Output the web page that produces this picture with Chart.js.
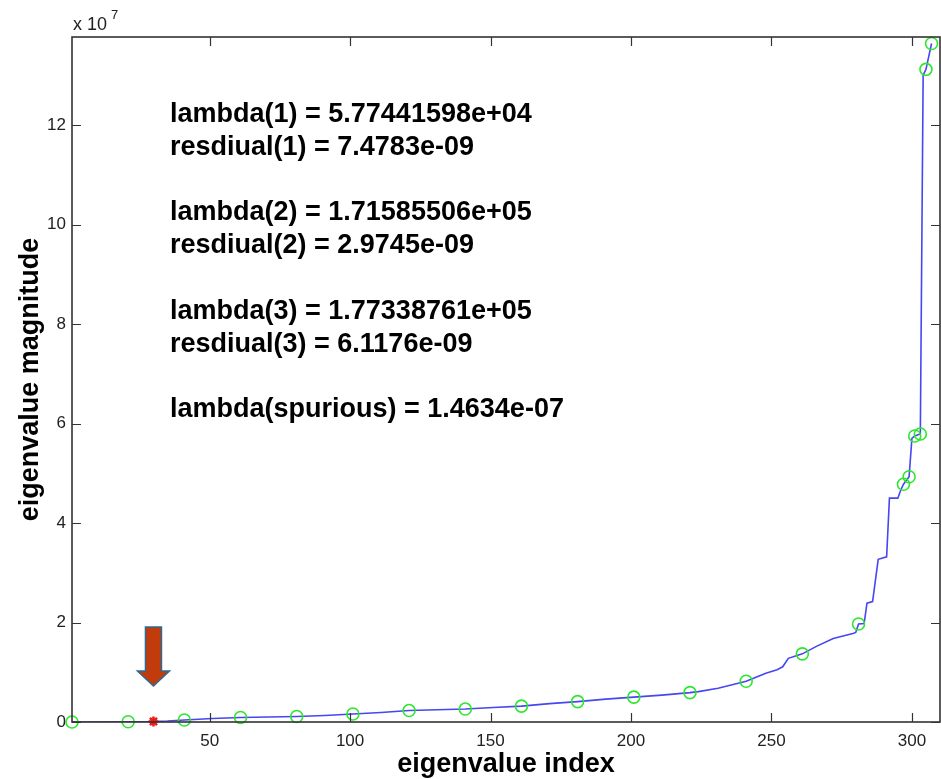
<!DOCTYPE html>
<html>
<head>
<meta charset="utf-8">
<title>eigenvalue magnitude</title>
<script src="https://cdn.jsdelivr.net/npm/chart.js@4.4.0/dist/chart.umd.min.js"></script>
<style>
    html, body { margin: 0; padding: 0; background: #fff; overflow: hidden; }
    #wrap { width: 941px; height: 779px; position: relative; }
    canvas { display: block; }
</style>
</head>
<body>
<div id="wrap"><canvas id="eigChart" width="941" height="779"></canvas></div>
<script>
// sorted eigenvalues, magnitude in units of 1e7
const eigIndex = [1, 11, 21, 30, 35, 41, 51, 61, 71, 81, 91, 101, 111, 121, 131, 141, 151, 161, 171, 181,
    191, 201, 211, 221, 224, 231, 241, 248, 252, 254, 256, 261, 266, 272, 279, 280, 281, 283, 284, 286,
    288, 291, 292, 295, 296, 297, 299, 300, 301, 303, 304, 305, 307];
const magnitudeE7 = [0.0, 0.0, 0.005, 0.01, 0.02, 0.04, 0.07, 0.09, 0.10, 0.11, 0.13, 0.16, 0.19, 0.23, 0.245, 0.26, 0.29, 0.32, 0.37, 0.41,
    0.46, 0.50, 0.54, 0.59, 0.61, 0.68, 0.82, 0.98, 1.05, 1.11, 1.28, 1.37, 1.52, 1.68, 1.78, 1.80, 1.97, 1.98, 2.39, 2.42,
    3.27, 3.32, 4.50, 4.50, 4.66, 4.78, 4.93, 5.70, 5.75, 5.79, 13.0, 13.12, 13.64];
const markerIndex = [1, 21, 41, 61, 81, 101, 121, 141, 161, 181, 201, 221, 241, 261, 281, 297, 299, 301, 303, 305, 307];
const spuriousIndex = [30];
const xTicks = [50, 100, 150, 200, 250, 300];
const yTicks = [0, 2, 4, 6, 8, 10, 12];
const infoLines = [
    'lambda(1) = 5.77441598e+04',
    'resdiual(1) = 7.4783e-09',
    '',
    'lambda(2) = 1.71585506e+05',
    'resdiual(2) = 2.9745e-09',
    '',
    'lambda(3) = 1.77338761e+05',
    'resdiual(3) = 6.1176e-09',
    '',
    'lambda(spurious) = 1.4634e-07'
];

document.addEventListener('DOMContentLoaded', function () {

    const FONT = '"Liberation Sans", Arial, Helvetica, sans-serif';

    function pointsFor(list) {
        return list.map(function (i) {
            return { x: i, y: magnitudeE7[eigIndex.indexOf(i)] };
        });
    }

    const curve = eigIndex.map(function (i, k) { return { x: i, y: magnitudeE7[k] }; });

    // box, inward ticks, annotations, axis titles
    const decorations = {
        id: 'decorations',
        afterDraw(chart) {
            const ctx = chart.ctx;
            const a = chart.chartArea;
            const xs = chart.scales.x;
            const ys = chart.scales.y;
            const tl = 9;

            ctx.save();
            ctx.strokeStyle = '#333';
            ctx.lineWidth = 1.6;
            ctx.strokeRect(a.left, a.top, a.right - a.left, a.bottom - a.top);

            ctx.lineWidth = 1.2;
            ctx.beginPath();
            xTicks.forEach(function (v) {
                const px = Math.round(xs.getPixelForValue(v)) + 0.5;
                ctx.moveTo(px, a.bottom); ctx.lineTo(px, a.bottom - tl);
                ctx.moveTo(px, a.top); ctx.lineTo(px, a.top + tl);
            });
            yTicks.forEach(function (v) {
                const py = Math.round(ys.getPixelForValue(v)) + 0.5;
                ctx.moveTo(a.left, py); ctx.lineTo(a.left + tl, py);
                ctx.moveTo(a.right, py); ctx.lineTo(a.right - tl, py);
            });
            ctx.stroke();

            // exponent label
            ctx.fillStyle = '#222';
            ctx.font = '18px ' + FONT;
            ctx.textAlign = 'left';
            ctx.textBaseline = 'alphabetic';
            ctx.fillText('x 10', 73, 30);
            ctx.font = '13px ' + FONT;
            ctx.fillText('7', 111, 19);

            // text block
            ctx.fillStyle = '#000';
            ctx.font = 'bold 27px ' + FONT;
            infoLines.forEach(function (line, k) {
                if (line) ctx.fillText(line, 170, 122 + 32.8 * k);
            });

            // axis titles
            ctx.textAlign = 'center';
            ctx.fillText('eigenvalue index', (a.left + a.right) / 2, 772);
            ctx.save();
            ctx.translate(38, (a.top + a.bottom) / 2);
            ctx.rotate(-Math.PI / 2);
            ctx.fillText('eigenvalue magnitude', 0, 0);
            ctx.restore();

            // arrow pointing at the spurious eigenvalue
            const ax = xs.getPixelForValue(spuriousIndex[0]);
            const ay = ys.getPixelForValue(0);
            ctx.beginPath();
            ctx.moveTo(ax - 8, ay - 95);
            ctx.lineTo(ax + 8, ay - 95);
            ctx.lineTo(ax + 8, ay - 51);
            ctx.lineTo(ax + 16, ay - 51);
            ctx.lineTo(ax, ay - 36);
            ctx.lineTo(ax - 16, ay - 51);
            ctx.lineTo(ax - 8, ay - 51);
            ctx.closePath();
            ctx.fillStyle = '#c23b0d';
            ctx.fill();
            ctx.lineWidth = 1.5;
            ctx.strokeStyle = '#2b6a94';
            ctx.stroke();
            ctx.restore();
        }
    };

    const canvas = document.getElementById('eigChart');
    const ctx = canvas.getContext('2d');
    new Chart(ctx, {
        type: 'scatter',
        data: {
            datasets: [
                {
                    label: 'eigenvalues',
                    data: curve,
                    showLine: true,
                    borderColor: '#4646f2',
                    borderWidth: 1.6,
                    pointRadius: 0,
                    tension: 0,
                    order: 3
                },
                {
                    label: 'markers',
                    data: pointsFor(markerIndex),
                    showLine: false,
                    pointStyle: 'circle',
                    pointRadius: 6,
                    borderColor: '#2ee62e',
                    backgroundColor: 'rgba(0,0,0,0)',
                    borderWidth: 1.6,
                    clip: false,
                    order: 2
                },
                {
                    label: 'spurious',
                    data: pointsFor(spuriousIndex),
                    showLine: false,
                    pointStyle: 'star',
                    pointRadius: 5,
                    borderColor: '#f01818',
                    borderWidth: 2.5,
                    clip: false,
                    order: 1
                }
            ]
        },
        options: {
            responsive: false,
            animation: false,
            layout: { autoPadding: false, padding: { left: 0, right: 1, top: 37, bottom: 0 } },
            plugins: { legend: { display: false }, tooltip: { enabled: false } },
            scales: {
                x: {
                    type: 'linear',
                    min: 1,
                    max: 310,
                    grid: { display: false, drawTicks: false },
                    border: { display: false },
                    afterBuildTicks: function (scale) { scale.ticks = xTicks.map(function (v) { return { value: v }; }); },
                    afterFit: function (scale) { scale.height = 57; },
                    ticks: { autoSkip: false, maxRotation: 0, padding: 9, color: '#222', font: { family: FONT, size: 17 } }
                },
                y: {
                    type: 'linear',
                    min: 0,
                    max: 13.77,
                    grid: { display: false, drawTicks: false },
                    border: { display: false },
                    afterBuildTicks: function (scale) { scale.ticks = yTicks.map(function (v) { return { value: v }; }); },
                    afterFit: function (scale) { scale.width = 72; },
                    ticks: { autoSkip: false, padding: 6, color: '#222', font: { family: FONT, size: 17 } }
                }
            }
        },
        plugins: [decorations]
    });
});
</script>
</body>
</html>
